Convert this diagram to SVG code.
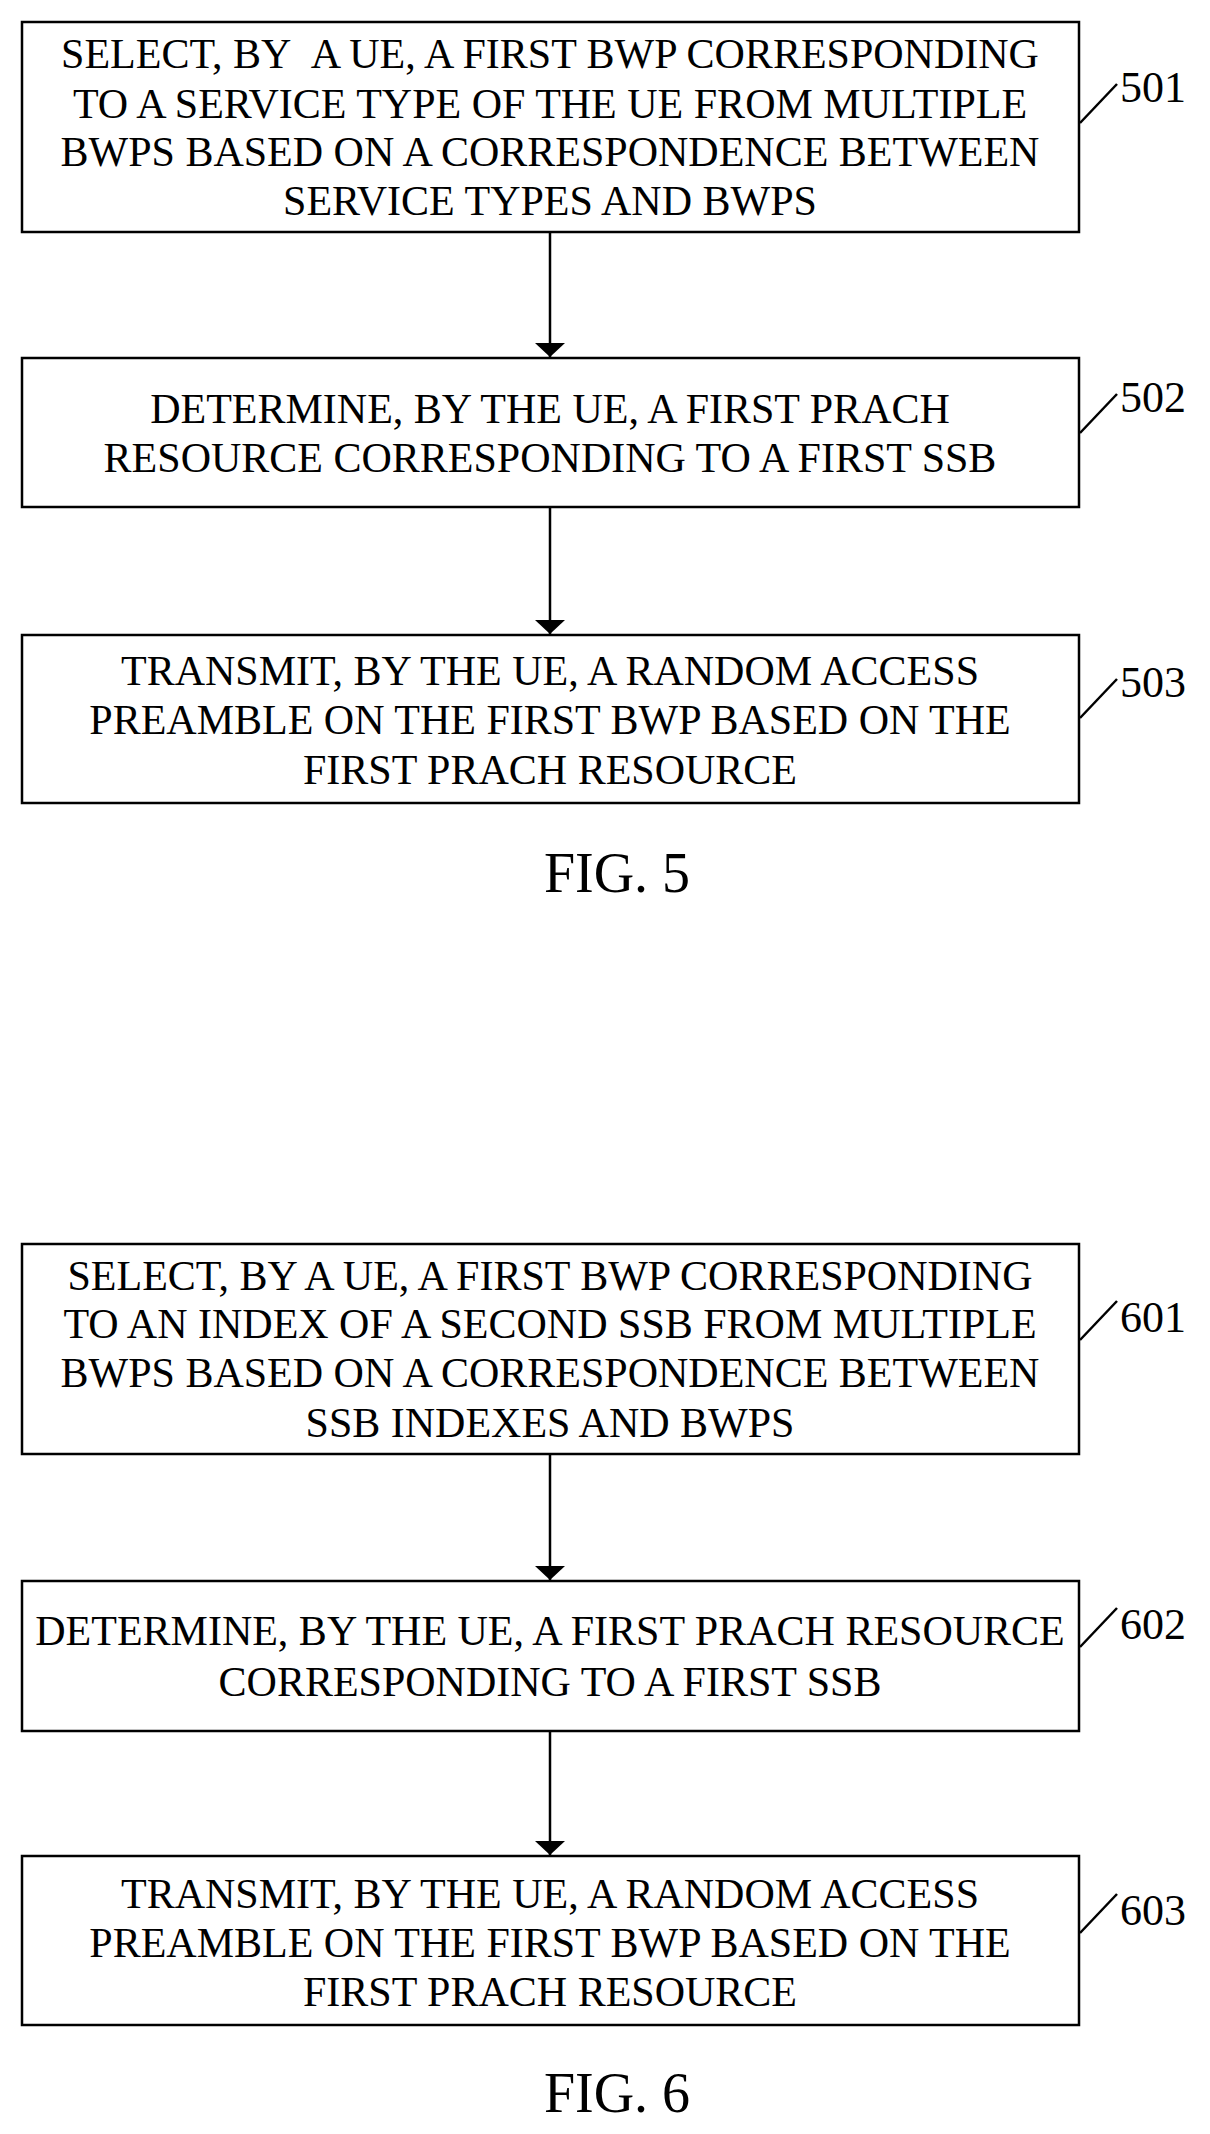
<svg xmlns="http://www.w3.org/2000/svg" width="1210" height="2134" viewBox="0 0 1210 2134">
<defs><marker id="ah" markerWidth="14" markerHeight="30" refX="14" refY="15" orient="auto" markerUnits="userSpaceOnUse"><path d="M0,0 L14,15 L0,30 z" transform="rotate(0)" fill="#000"/></marker></defs>
<style>
rect{fill:#fff;stroke:#000;stroke-width:2.5}
text{font-family:"Liberation Serif",serif;font-size:42px;fill:#000;text-anchor:middle}
.lb{font-size:44px;text-anchor:start}
.fig{font-size:56px}
.c line,.s{stroke:#000;stroke-width:2.5;fill:none}
</style>
<rect width="1210" height="2134" style="fill:#fff;stroke:none"/>
<g id="n501"><rect x="22" y="22" width="1057" height="210"/>
<text x="550" y="68">SELECT, BY &#160;A UE, A FIRST BWP CORRESPONDING</text>
<text x="550" y="118">TO A SERVICE TYPE OF THE UE FROM MULTIPLE</text>
<text x="550" y="166">BWPS BASED ON A CORRESPONDENCE BETWEEN</text>
<text x="550" y="215">SERVICE TYPES AND BWPS</text>
<path class="s" d="M1080,123 L1117,84"/><text class="lb" x="1120" y="102">501</text></g>
<g id="n502"><rect x="22" y="358" width="1057" height="149"/>
<text x="550" y="423">DETERMINE, BY THE UE, A FIRST PRACH</text>
<text x="550" y="472">RESOURCE CORRESPONDING TO A FIRST SSB</text>
<path class="s" d="M1080,433 L1117,394"/><text class="lb" x="1120" y="412">502</text></g>
<g id="n503"><rect x="22" y="635" width="1057" height="168"/>
<text x="550" y="685">TRANSMIT, BY THE UE, A RANDOM ACCESS</text>
<text x="550" y="734">PREAMBLE ON THE FIRST BWP BASED ON THE</text>
<text x="550" y="784">FIRST PRACH RESOURCE</text>
<path class="s" d="M1080,718 L1117,679"/><text class="lb" x="1120" y="697">503</text></g>
<text class="fig" x="617" y="892">FIG. 5</text>
<g id="n601"><rect x="22" y="1244" width="1057" height="210"/>
<text x="550" y="1290">SELECT, BY A UE, A FIRST BWP CORRESPONDING</text>
<text x="550" y="1338">TO AN INDEX OF A SECOND SSB FROM MULTIPLE</text>
<text x="550" y="1387">BWPS BASED ON A CORRESPONDENCE BETWEEN</text>
<text x="550" y="1437">SSB INDEXES AND BWPS</text>
<path class="s" d="M1080,1340 L1117,1301"/><text class="lb" x="1120" y="1332">601</text></g>
<g id="n602"><rect x="22" y="1581" width="1057" height="150"/>
<text x="550" y="1645">DETERMINE, BY THE UE, A FIRST PRACH RESOURCE</text>
<text x="550" y="1696">CORRESPONDING TO A FIRST SSB</text>
<path class="s" d="M1080,1647 L1117,1608"/><text class="lb" x="1120" y="1639">602</text></g>
<g id="n603"><rect x="22" y="1856" width="1057" height="169"/>
<text x="550" y="1908">TRANSMIT, BY THE UE, A RANDOM ACCESS</text>
<text x="550" y="1957">PREAMBLE ON THE FIRST BWP BASED ON THE</text>
<text x="550" y="2006">FIRST PRACH RESOURCE</text>
<path class="s" d="M1080,1933 L1117,1894"/><text class="lb" x="1120" y="1925">603</text></g>
<text class="fig" x="617" y="2112">FIG. 6</text>
<g class="c" id="connectors">
<line x1="550" y1="232" x2="550" y2="357" marker-end="url(#ah)"/>
<line x1="550" y1="507" x2="550" y2="634" marker-end="url(#ah)"/>
<line x1="550" y1="1454" x2="550" y2="1580" marker-end="url(#ah)"/>
<line x1="550" y1="1731" x2="550" y2="1855" marker-end="url(#ah)"/>
</g>
</svg>
